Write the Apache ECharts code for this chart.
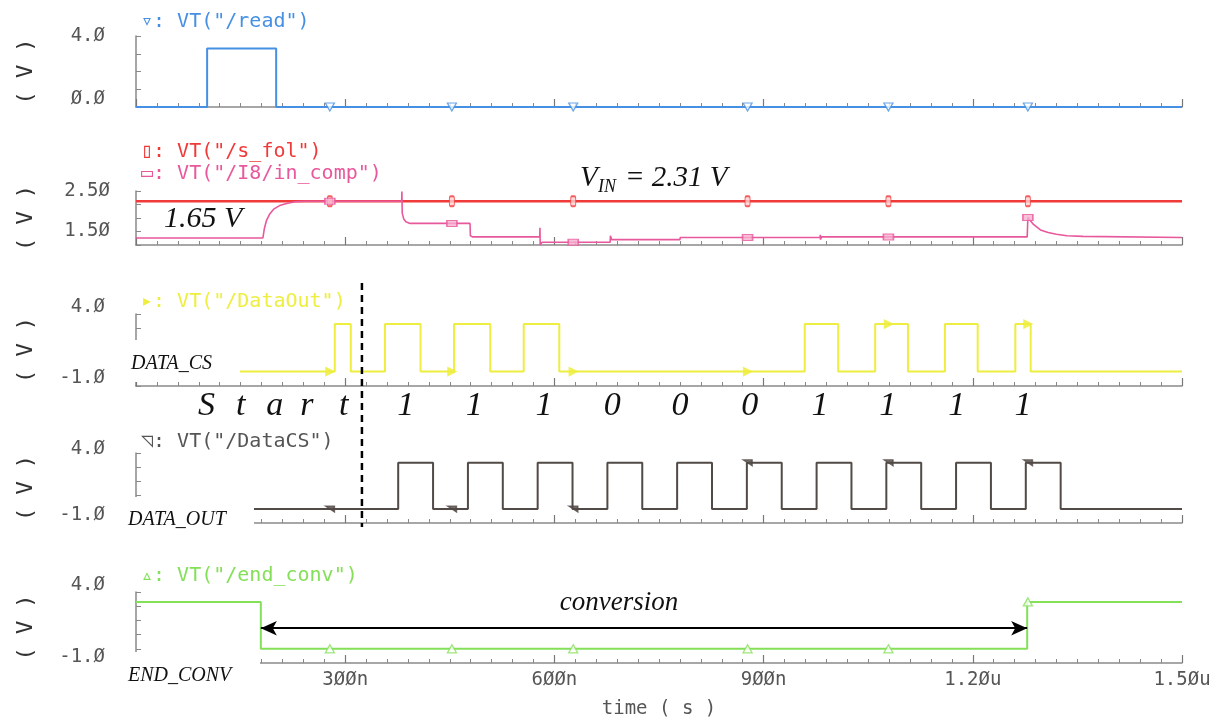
<!DOCTYPE html>
<html><head><meta charset="utf-8">
<script src="https://cdn.jsdelivr.net/npm/echarts@6/dist/echarts.min.js"></script>
<style>html,body{margin:0;padding:0;background:#fff}#c{width:1227px;height:722px}</style>
</head><body><div id="c"></div>
<script>
// ---------- data (time in ns, voltage in V) ----------
const timeTicks = [0, 300, 600, 900, 1200, 1500];
const timeTickLabels = ['', '3ØØn', '6ØØn', '9ØØn', '1.2Øu', '1.5Øu'];
const markerTimes = [278, 453, 627, 877, 1079, 1279];

const readT = [0, 102, 102, 201, 201, 1500];
const readV = [0, 0, 3.3, 3.3, 0, 0];

const sFolT = [0, 1500];
const sFolV = [2.31, 2.31];

const inCompT = [0, 182, 184, 187, 192, 198, 206, 216, 228, 242, 381, 381.3, 381.8, 384, 387, 393,
  479, 479.5, 483, 579, 579.3, 579.6, 582, 680, 680.3, 682, 780, 780.5, 981, 981.3, 981.6, 983,
  1278, 1279, 1287, 1297, 1308, 1320, 1335, 1358, 1359, 1500];
const inCompV = [1.63, 1.63, 1.80, 1.95, 2.08, 2.17, 2.23, 2.27, 2.30, 2.31, 2.31, 2.49, 2.09, 1.98, 1.93, 1.90,
  1.90, 1.67, 1.65, 1.65, 1.82, 1.50, 1.55, 1.55, 1.67, 1.60, 1.60, 1.64, 1.64, 1.69, 1.60, 1.65,
  1.65, 2.01, 1.88, 1.78, 1.73, 1.70, 1.67, 1.66, 1.64, 1.64];

const dataOutRise = [285, 357, 456, 556, 959, 1060, 1160, 1261];
const dataOutFall = [308, 408, 508, 607, 1007, 1107, 1207, 1283];
const dataOutLow = 0, dataOutHigh = 3.3;

const dataCsRise = [376, 476, 576, 676, 776, 876, 976, 1076, 1176, 1276];
const dataCsFall = [426, 526, 626, 726, 826, 926, 1026, 1126, 1226, 1326];
const dataCsLow = 0, dataCsHigh = 3.3;

const endConvT = [0, 179, 179, 1278, 1278, 1500];
const endConvV = [3.3, 3.3, 0, 0, 3.3, 3.3];
const conversionLevel = 1.45;

const startLetters = ['S', 't', 'a', 'r', 't'];
const startLetterTimes = [101, 150, 199, 245, 298];
const bitLabels = ['1', '1', '1', '0', '0', '0', '1', '1', '1', '1'];
const bitTimes = [387, 485, 585, 683, 780, 880, 981, 1078, 1177, 1272];
const startMarkTime = 324;

const yMin = [0, 1.5, -1, -1, -1];
const yMax = [4, 2.5, 4, 4, 4];
const yInterval = [1, 0.25, 1, 1, 1];
const yTopLabels = ['4.Ø', '2.5Ø', '4.Ø', '4.Ø', '4.Ø'];
const yBottomLabels = ['Ø.Ø', '1.5Ø', '-1.Ø', '-1.Ø', '-1.Ø'];

// ---------- helpers ----------
function zip(T, V) { return T.map((t, i) => [t, V[i]]); }
function pulseTrain(rise, fall, lo, hi) {
  const T = [0], V = [lo];
  rise.forEach((r, i) => { T.push(r, r, fall[i], fall[i]); V.push(lo, hi, hi, lo); });
  T.push(1500); V.push(lo);
  return { T, V };
}
function valueAt(T, V, t) {
  let i = -1;
  for (let k = 0; k < T.length; k++) if (T[k] <= t) i = k;
  if (i < 0) return V[0];
  if (i === T.length - 1) return V[i];
  const t0 = T[i], t1 = T[i + 1];
  if (t1 === t0) return V[i + 1];
  return V[i] + (V[i + 1] - V[i]) * (t - t0) / (t1 - t0);
}

const dataOut = pulseTrain(dataOutRise, dataOutFall, dataOutLow, dataOutHigh);
const dataCs = pulseTrain(dataCsRise, dataCsFall, dataCsLow, dataCsHigh);

// ---------- styling ----------
const C = { blue: '#4690e4', red: '#f03a3a', pink: '#e8589c', yellow: '#eeee40', dark: '#524a46', green: '#84e058' };
const MONO = '"DejaVu Sans Mono", "Liberation Mono", monospace';
const SERIF = '"Liberation Serif", "DejaVu Serif", serif';
const gridPos = [
  { top: 36, height: 71 }, { top: 191, height: 54 }, { top: 314, height: 72 },
  { top: 453, height: 70 }, { top: 592, height: 71 }
];
const labelPad = [[0, 16], [0, 28], [14, 16], [8, 16], [14, 12]];
const labelMargin = [31, 26, 31, 31, 31];

const grid = gridPos.map(g => ({ left: 136, right: 45, top: g.top, height: g.height, outerBoundsMode: 'none', containLabel: false }));

const xAxis = gridPos.map((g, i) => ({
  type: 'value', gridIndex: i, min: 0, max: 1500, interval: 300,
  axisLine: { show: true, onZero: false, lineStyle: { color: '#8a8a8a', width: 1.5 } },
  axisTick: { show: true, inside: true, length: 8, lineStyle: { color: '#777', width: 1.2 } },
  minorTick: { show: true, splitNumber: 10, length: 4, lineStyle: { color: '#888', width: 1 } },
  splitLine: { show: false }, minorSplitLine: { show: false },
  axisLabel: {
    show: i === 4, margin: 8, fontFamily: MONO, fontSize: 19, color: '#555',
    formatter: v => { const k = timeTicks.indexOf(v); return k >= 0 ? timeTickLabels[k] : ''; }
  },
  name: i === 4 ? 'time ( s )' : '', nameLocation: 'middle', nameGap: 37,
  nameTextStyle: { fontFamily: MONO, fontSize: 19, color: '#555' }
}));

const yAxis = gridPos.map((g, i) => ({
  type: 'value', gridIndex: i, min: yMin[i], max: yMax[i], interval: yInterval[i],
  axisLine: { show: true, onZero: false, lineStyle: { color: '#8a8a8a', width: 1.5 } },
  axisTick: { show: true, inside: true, length: 5, lineStyle: { color: '#888' } },
  splitLine: { show: false },
  axisLabel: {
    show: true, showMinLabel: true, showMaxLabel: true, margin: labelMargin[i],
    fontFamily: MONO, fontSize: 19, color: '#555',
    formatter: v => Math.abs(v - yMax[i]) < 1e-6 ? '{hi|' + yTopLabels[i] + '}' :
      (Math.abs(v - yMin[i]) < 1e-6 ? '{lo|' + yBottomLabels[i] + '}' : ''),
    rich: {
      hi: { fontFamily: MONO, fontSize: 19, color: '#555', padding: [0, 0, labelPad[i][0], 0] },
      lo: { fontFamily: MONO, fontSize: 19, color: '#555', padding: [0, 0, labelPad[i][1], 0] }
    }
  },
  name: '( V )', nameLocation: 'middle', nameRotate: 90, nameGap: 99,
  nameTextStyle: { fontFamily: MONO, fontSize: 22, color: '#333' }
}));

function lineSeries(idx, T, V, color, width) {
  return { type: 'line', xAxisIndex: idx, yAxisIndex: idx, data: zip(T, V), showSymbol: false, symbol: 'none',
    lineStyle: { color, width }, itemStyle: { color }, animation: false, z: 3 };
}
function markerSeries(idx, T, V, symbol, size, rotate, fill, stroke) {
  return { type: 'scatter', xAxisIndex: idx, yAxisIndex: idx,
    data: markerTimes.map(t => [t, valueAt(T, V, t)]),
    symbol, symbolSize: size, symbolRotate: rotate,
    itemStyle: { color: fill, borderColor: stroke, borderWidth: 1.3 }, animation: false, z: 5, silent: true };
}

const series = [
  lineSeries(0, readT, readV, C.blue, 2),
  markerSeries(0, readT, readV, 'triangle', [9, 8], 180, '#fff', C.blue),
  lineSeries(1, sFolT, sFolV, C.red, 2.4),
  lineSeries(1, inCompT, inCompV, C.pink, 1.6),
  markerSeries(1, sFolT, sFolV, 'roundRect', [5, 10], 0, '#ffd0d0', C.red),
  markerSeries(1, inCompT, inCompV, 'rect', [10, 6], 0, '#f6b0d0', C.pink),
  lineSeries(2, dataOut.T, dataOut.V, C.yellow, 2),
  markerSeries(2, dataOut.T, dataOut.V, 'triangle', [8, 8], -90, C.yellow, C.yellow),
  lineSeries(3, dataCs.T, dataCs.V, C.dark, 2),
  markerSeries(3, dataCs.T, dataCs.V, 'path://M0,0 L10,0 L10,6 Z', [9, 6], 0, C.dark, C.dark),
  Object.assign(lineSeries(4, endConvT, endConvV, C.green, 2), {
    markLine: {
      silent: true, animation: false, symbol: ['arrow', 'arrow'], symbolSize: [11, 16],
      lineStyle: { color: '#000', width: 2, type: 'solid' }, label: { show: false },
      data: [[{ coord: [endConvT[1], conversionLevel] }, { coord: [endConvT[3], conversionLevel] }]]
    }
  }),
  markerSeries(4, endConvT, endConvV, 'triangle', [9, 8], 0, '#fff', C.green)
];

const chart = echarts.init(document.getElementById('c'), null, { renderer: 'canvas' });
chart.setOption({ backgroundColor: '#ffffff', animation: false, grid, xAxis, yAxis, series });

// ---------- annotations ----------
function txt(text, x, y, font, fill, align) {
  return { type: 'text', z: 110, silent: true,
    style: { text, x, y, font, fill, textAlign: align || 'left', align: align || 'left',
      textVerticalAlign: 'middle', verticalAlign: 'middle' } };
}
function rect(x, y, w, h) {
  return { type: 'rect', z: 100, silent: true, shape: { x, y, width: w, height: h }, style: { fill: '#ffffff' } };
}
const px = t => chart.convertToPixel({ xAxisIndex: 2 }, t);
const legendFont = '20px ' + MONO;
const g = [
  txt('▿: VT("/read")', 141, 22, legendFont, C.blue),
  txt('▯: VT("/s_fol")', 141, 152, legendFont, C.red),
  txt('▭: VT("/I8/in_comp")', 141, 174, legendFont, C.pink),
  txt('▸: VT("/DataOut")', 141, 302, legendFont, C.yellow),
  txt('◹: VT("/DataCS")', 141, 442, legendFont, '#555'),
  txt('▵: VT("/end_conv")', 141, 576, legendFont, C.green),
  // white label boxes
  rect(125, 340, 115, 42),
  rect(125, 497, 129, 45),
  rect(125, 652, 135, 48),
  txt('DATA_CS', 131, 364, 'italic 20px ' + SERIF, '#111'),
  txt('DATA_OUT', 128, 520, 'italic 20px ' + SERIF, '#111'),
  txt('END_CONV', 128, 676, 'italic 20px ' + SERIF, '#111'),
  txt('1.65 V', 164, 219, 'italic 30px ' + SERIF, '#111'),
  txt('V', 580, 178, 'italic 29px ' + SERIF, '#111'),
  txt('IN', 598, 187, 'italic 18px ' + SERIF, '#111'),
  txt('= 2.31 V', 625, 178, 'italic 29px ' + SERIF, '#111'),
  txt('conversion', 619, 603, 'italic 27px ' + SERIF, '#111', 'center'),
  { type: 'line', z: 105, silent: true,
    shape: { x1: px(startMarkTime), y1: 283, x2: px(startMarkTime), y2: 527 },
    style: { stroke: '#000', lineWidth: 2.5, lineDash: [7, 5] } }
];
startLetters.forEach((s, i) => g.push(txt(s, px(startLetterTimes[i]), 406, 'italic 34px ' + SERIF, '#111', 'center')));
bitLabels.forEach((s, i) => g.push(txt(s, px(bitTimes[i]), 406, 'italic 34px ' + SERIF, '#111', 'center')));
chart.setOption({ graphic: { elements: g } });
</script>
</body></html>
